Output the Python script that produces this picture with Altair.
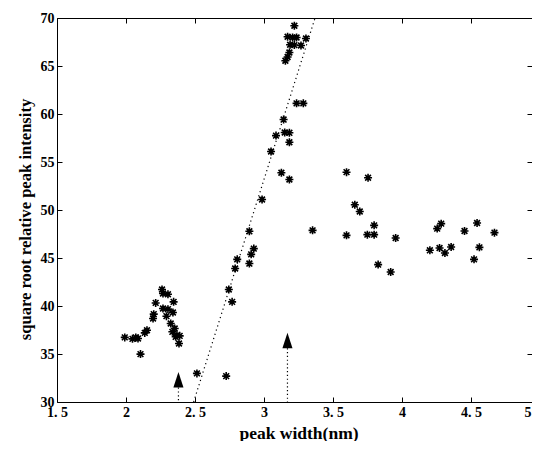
import altair as alt
import pandas as pd

# peak width (nm) and square root relative peak intensity
peak_width = [
    2.261, 2.268, 2.304, 2.345, 2.215, 2.268, 2.304, 2.340, 2.201, 2.196,
    2.293, 2.324, 2.353, 2.336, 2.369, 2.389, 2.360, 2.384, 2.152, 2.136,
    2.071, 2.087, 2.047, 1.991, 2.105, 2.514,
    3.220, 3.171, 3.207, 3.236, 3.304, 3.189, 3.220, 3.268, 3.184, 3.171,
    3.155, 3.236, 3.285, 3.142, 3.150, 3.184, 3.087, 3.184, 3.051, 3.126,
    3.184, 2.986, 2.894, 2.926, 2.907, 2.806, 2.894, 2.791, 2.745, 2.769,
    2.726, 3.352,
    3.598, 3.754, 3.658, 3.694, 3.798, 3.598, 3.749, 3.798, 3.954, 3.827,
    3.918,
    4.284, 4.255, 4.453, 4.544, 4.670, 4.202, 4.272, 4.311, 4.356, 4.561,
    4.522,
]
peak_intensity = [
    41.72, 41.30, 41.23, 40.43, 40.32, 39.74, 39.67, 39.32, 39.15, 38.70,
    38.94, 38.18, 37.66, 37.31, 36.96, 36.89, 36.79, 36.10, 37.48, 37.20,
    36.73, 36.62, 36.58, 36.73, 34.99, 32.98,
    69.19, 68.05, 67.97, 67.97, 67.87, 67.21, 67.18, 67.13, 66.41, 65.94,
    65.55, 61.11, 61.11, 59.42, 58.07, 58.04, 57.75, 57.06, 56.09, 53.88,
    53.18, 51.10, 47.78, 45.98, 45.38, 44.86, 44.42, 43.90, 41.72, 40.43,
    32.70, 47.88,
    53.94, 53.36, 50.55, 49.85, 48.40, 47.36, 47.43, 47.43, 47.08, 44.31,
    43.54,
    48.58, 48.06, 47.81, 48.64, 47.64, 45.80, 46.04, 45.52, 46.14, 46.11,
    44.86,
]

# dotted fit line end points
fit_x = [2.49, 3.37]
fit_y = [30, 70]

# arrows: x position and value at the base of the arrow head
arrow_x = [2.38, 3.17]
arrow_base = [31.5, 35.6]

x_ticks = [1.5, 2, 2.5, 3, 3.5, 4, 4.5, 5]
y_ticks = [30, 35, 40, 45, 50, 55, 60, 65, 70]

pts = pd.DataFrame({"w": peak_width, "i": peak_intensity})
fit = pd.DataFrame({"w": fit_x, "i": fit_y})
arr = pd.DataFrame({"w": arrow_x, "i": arrow_base})

FONT = "Liberation Serif"
ASTERISK = "M-1,0L1,0M0,-1L0,1M-0.72,-0.72L0.72,0.72M-0.72,0.72L0.72,-0.72"
TRIANGLE = "M0,-2L0.65,0L-0.65,0Z"

xscale = alt.Scale(domain=[1.5, 5], nice=False, zero=False)
yscale = alt.Scale(domain=[30, 70], nice=False, zero=False)

common_axis = dict(
    grid=False, domain=False, tickSize=5, offset=-5, tickColor="black",
    tickWidth=1, labelFont=FONT, labelFontWeight="bold", labelFontSize=14,
    labelColor="black", titleFont=FONT, titleFontWeight="bold",
    titleColor="black", labelFlush=False, labelOverlap=False,
)

x_axis = alt.Axis(
    values=x_ticks, orient="bottom", labelPadding=3, titlePadding=5,
    titleFontSize=17.5,
    labelAlign=alt.condition("datum.value == 5", alt.value("right"), alt.value("center")),
    labelOffset=alt.condition("datum.value == 5", alt.value(-9), alt.value(0)),
    labelExpr="datum.value % 1 == 0 ? format(datum.value, 'd') : replace(format(datum.value, '.1f'), '.', '. ')",
    **common_axis,
)
y_axis = alt.Axis(
    values=y_ticks, orient="left", labelPadding=3, titlePadding=7,
    titleFontSize=16.6, titleY=201, format="d", **common_axis,
)

X = alt.X("w:Q", scale=xscale, axis=x_axis, title="peak width(nm)")
Y = alt.Y("i:Q", scale=yscale, axis=y_axis, title="square root relative peak intensity")

points = alt.Chart(pts).mark_point(
    shape=ASTERISK, filled=False, color="black", strokeWidth=1.6, size=64, opacity=1
).encode(x=X, y=Y)

fit_line = alt.Chart(fit).mark_line(
    color="black", strokeWidth=1.2, strokeDash=[1.2, 3.2]
).encode(x=X, y=Y)

stems = alt.Chart(arr).mark_rule(
    color="black", strokeWidth=1.2, strokeDash=[1.2, 2.6]
).encode(x=X, y=Y, y2=alt.datum(30))

heads = alt.Chart(arr).mark_point(
    shape=TRIANGLE, filled=True, color="black", size=240, opacity=1
).encode(x=X, y=Y)

main = alt.layer(fit_line, stems, heads, points)

tick_axis = dict(grid=False, domain=False, tickSize=5,
                 tickColor="black", labels=False, title=None)
frame = alt.Chart(pts).mark_point(opacity=0).encode(
    x=alt.X("w:Q", scale=xscale, axis=alt.Axis(values=x_ticks, orient="top", offset=-5, **tick_axis)),
    y=alt.Y("i:Q", scale=yscale, axis=alt.Axis(values=y_ticks, orient="right", offset=-13, **tick_axis)),
)

chart = alt.layer(main, frame).resolve_scale(x="independent", y="independent").properties(
    width=483, height=384,
    autosize=alt.AutoSizeParams(type="none"),
    padding={"left": 49, "top": 10, "right": -8, "bottom": 39},
    background="white",
).configure_view(stroke="black", strokeWidth=1)

chart.save("out.html", embed_options={"renderer": "svg", "actions": False})
